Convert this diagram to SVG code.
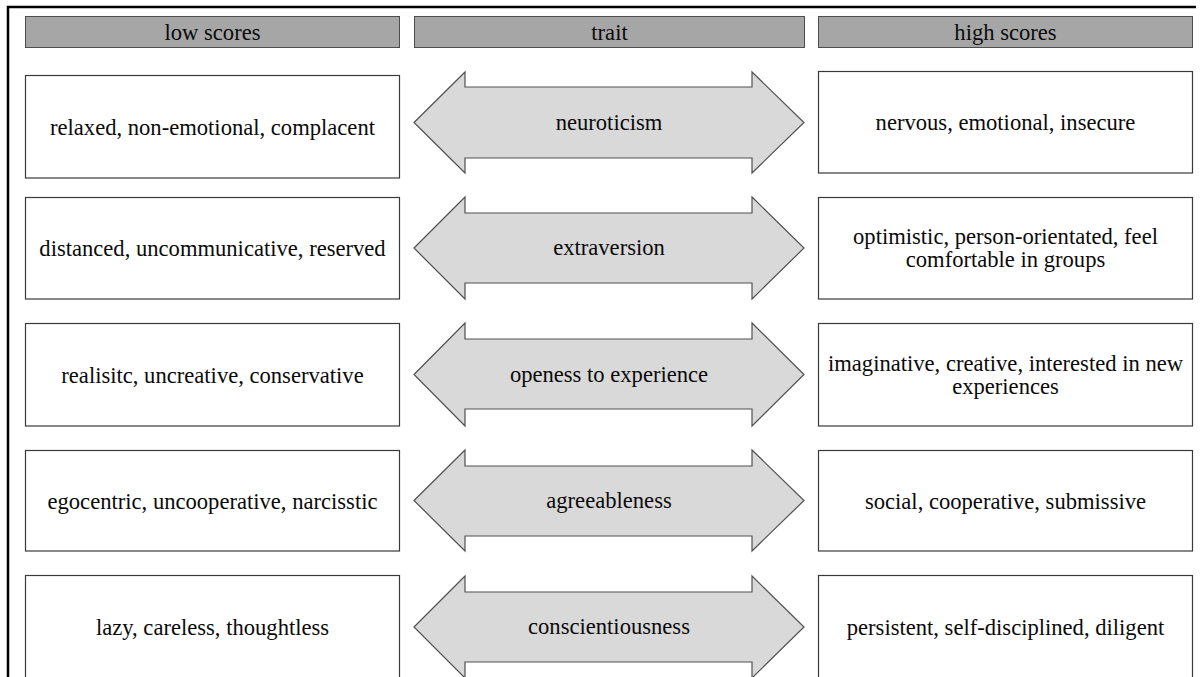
<svg xmlns="http://www.w3.org/2000/svg" width="1203" height="677" viewBox="0 0 1203 677">
  <defs>
    <style>
      .hdr { fill: #a6a6a6; stroke: #4d4d4d; stroke-width: 1; }
      .box { fill: #ffffff; stroke: #3a3a3a; stroke-width: 1.2; }
      .arr { fill: #d9d9d9; stroke: #505050; stroke-width: 1.2; stroke-linejoin: miter; }
      .t { font-size: 22.6px; fill: #0a0a0a; text-anchor: middle; }
      .frame { fill: none; stroke: #000000; stroke-width: 2.5; }
    </style>
  </defs>
  <rect x="0" y="0" width="1203" height="677" fill="#ffffff"/>
  <path class="frame" d="M8,680 L8,7 L1196,7"/>

  <g font-family="'Liberation Serif', Tinos, 'Times New Roman', 'DejaVu Serif', serif">
  <g id="header-low"><rect class="hdr" x="25.5" y="16.5" width="374" height="31"/><text class="t" x="212.5" y="39.5">low scores</text></g>
  <g id="header-trait"><rect class="hdr" x="414.5" y="16.5" width="390" height="31"/><text class="t" x="609.5" y="39.5">trait</text></g>
  <g id="header-high"><rect class="hdr" x="818.5" y="16.5" width="374" height="31"/><text class="t" x="1005.5" y="39.5">high scores</text></g>

  <g id="low-1"><rect class="box" x="25.5" y="75.5" width="374" height="102.5"/><text class="t" x="212.5" y="134.5">relaxed, non-emotional, complacent</text></g>
  <g id="low-2"><rect class="box" x="25.5" y="197.5" width="374" height="101.5"/><text class="t" x="212.5" y="256">distanced, uncommunicative, reserved</text></g>
  <g id="low-3"><rect class="box" x="25.5" y="323.5" width="374" height="102.5"/><text class="t" x="212.5" y="382.5">realisitc, uncreative, conservative</text></g>
  <g id="low-4"><rect class="box" x="25.5" y="450.5" width="374" height="100.5"/><text class="t" x="212.5" y="508.5">egocentric, uncooperative, narcisstic</text></g>
  <g id="low-5"><rect class="box" x="25.5" y="575.5" width="374" height="110"/><text class="t" x="212.5" y="634.5">lazy, careless, thoughtless</text></g>

  <g id="high-1"><rect class="box" x="818.5" y="71.5" width="374" height="101.5"/><text class="t" x="1005.5" y="130">nervous, emotional, insecure</text></g>
  <g id="high-2"><rect class="box" x="818.5" y="197.5" width="374" height="101.5"/><text class="t" x="1005.5" y="244">optimistic, person-orientated, feel</text><text class="t" x="1005.5" y="267">comfortable in groups</text></g>
  <g id="high-3"><rect class="box" x="818.5" y="323.5" width="374" height="102.5"/><text class="t" x="1005.5" y="371">imaginative, creative, interested in new</text><text class="t" x="1005.5" y="394">experiences</text></g>
  <g id="high-4"><rect class="box" x="818.5" y="450.5" width="374" height="100.5"/><text class="t" x="1005.5" y="508.5">social, cooperative, submissive</text></g>
  <g id="high-5"><rect class="box" x="818.5" y="575.5" width="374" height="110"/><text class="t" x="1005.5" y="635">persistent, self-disciplined, diligent</text></g>

  <g id="connectors">
    <g id="trait-1"><path class="arr" d="M414,122.5 L465,72 L465,87 L752,87 L752,72 L804,122.5 L752,173 L752,158 L465,158 L465,173 Z"/><text class="t" x="609" y="129.5">neuroticism</text></g>
    <g id="trait-2"><path class="arr" d="M414,248 L465,197 L465,213 L752,213 L752,197 L804,248 L752,299 L752,283 L465,283 L465,299 Z"/><text class="t" x="609" y="255">extraversion</text></g>
    <g id="trait-3"><path class="arr" d="M414,374.5 L465,323 L465,339 L752,339 L752,323 L804,374.5 L752,426 L752,409 L465,409 L465,426 Z"/><text class="t" x="609" y="381.5">openess to experience</text></g>
    <g id="trait-4"><path class="arr" d="M414,500.5 L465,450 L465,466 L752,466 L752,450 L804,500.5 L752,551 L752,536 L465,536 L465,551 Z"/><text class="t" x="609" y="507.5">agreeableness</text></g>
    <g id="trait-5"><path class="arr" d="M414,627 L465,576 L465,592 L752,592 L752,576 L804,627 L752,678 L752,662 L465,662 L465,678 Z"/><text class="t" x="609" y="634">conscientiousness</text></g>
  </g>
  </g>
</svg>
